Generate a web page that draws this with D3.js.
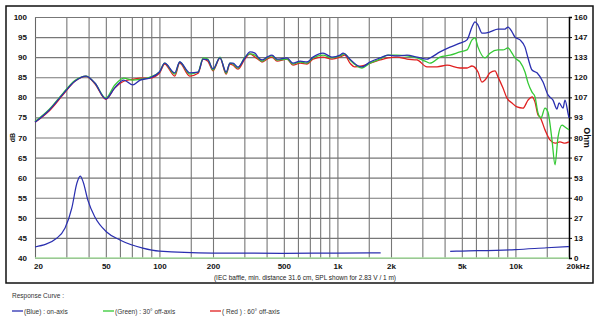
<!DOCTYPE html>
<html>
<head>
<meta charset="utf-8">
<script src="https://cdn.jsdelivr.net/npm/d3@7"></script>
<style>
  body { margin: 0; background: #fff; }
  svg { display: block; font-family: "Liberation Sans", Arial, sans-serif; }
</style>
</head>
<body>
<div id="chart"></div>
<script>
// ---- data ----
// frequency response, [Hz, dB]
const onAxis = [
  [20,73.8],[24,76.8],[28.7,80.8],[33.5,84],[38.7,85.3],[43.5,83.5],[50,79.6],[56,82.3],[63,84.3],[71,83.1],
  [78,84.3],[88,84.8],[100,86.3],[107,88.5],[122,86.1],[130,88.8],[148,86.1],[165,86.3],[176,89.5],[187,89.3],
  [200,87.1],[219,89.8],[237,86.3],[249,88.5],[259,88.5],[276,87.5],[302,89.8],[323,91.3],[344,91],[358,90],
  [377,89.3],[402,90],[429,90.5],[458,89.5],[521,89.8],[563,88.5],[617,89],[675,88.8],[729,90],[830,91],
  [932,90],[1034,90.5],[1075,91],[1177,89.5],[1288,88],[1374,87.6],[1524,88.8],[1734,89.8],[1924,90.5],[2161,90.3],
  [2460,90.5],[2800,90],[3186,89.5],[3312,89.8],[3770,91.3],[4292,92.5],[4884,93.5],[5346,94.3],[5702,97.5],[5927,98.8],
  [6163,98],[6490,96],[6746,96],[7198,96.3],[7980,97],[8738,97],[9084,97.5],[9566,96.3],[9944,95],[10608,94.3],
  [11320,92.5],[11770,89.8],[12394,86.8],[13220,86.1],[14290,83.8],[15240,80.6],[16260,79.3],[17130,77.1],[17580,78.6],
  [18510,77.3],[18990,79.3],[19740,76.1],[20000,74.9]
];
const offAxis30 = [
  [20,74],[24,77],[28.7,81],[33.5,84.2],[38.7,85.3],[43.5,83.5],[50,79.8],[56,83],[63,84.8],[71,84.3],
  [78,84.5],[88,85],[100,86.3],[107,88.5],[122,85.8],[130,88.8],[148,85.8],[165,86.3],[176,89.8],[187,89.5],
  [200,86.8],[219,90],[237,86],[249,88.5],[259,88.3],[276,87.3],[302,90],[323,90.8],[344,90.5],[358,89.8],
  [377,89],[402,89.8],[429,90.3],[458,89.3],[521,89.5],[563,88.3],[617,88.8],[675,88.5],[729,89.8],[830,90.5],
  [932,89.8],[1034,90.3],[1100,90.8],[1177,89.3],[1288,87.8],[1374,87.3],[1524,88.5],[1734,89.5],[1924,90.5],[2161,90.5],
  [2460,90.3],[2800,89.8],[3186,88.8],[3312,88.5],[3770,90],[4292,90.5],[4884,91.3],[5346,91.8],[5702,94.3],[5927,94.8],
  [6163,92.5],[6746,89.8],[7198,91],[7980,91.8],[8516,91.8],[9084,92.3],[9566,91],[9944,89.8],[10608,88.8],[11320,86.3],
  [11770,83.6],[12394,81.3],[12884,80.1],[13390,76.1],[13920,74.9],[14664,77.3],[15240,76.3],[16050,69.4],[16690,63.2],
  [17350,70.1],[18270,73.1],[18990,72.6],[20000,71.9]
];
const offAxis60 = [
  [20,73.8],[24,76.6],[28.7,80.6],[33.5,84],[38.7,85.2],[43.5,83.3],[50,79.5],[56,82.3],[63,84],[71,84.5],
  [78,84.8],[88,84.8],[100,86],[107,88.3],[122,85.3],[130,88.5],[148,85.3],[165,86],[176,89.5],[187,89],
  [200,86.6],[219,89.8],[237,85.8],[249,88.3],[259,88],[276,87],[302,89.5],[323,90.8],[344,90],[358,89.5],
  [377,88.8],[402,89.5],[429,90],[458,89],[521,89.5],[563,88],[617,88.5],[675,88.3],[729,89.5],[830,90],
  [932,89.5],[1034,90],[1100,90.5],[1177,88.5],[1250,87.6],[1374,87.8],[1524,88.5],[1734,89.3],[1924,89.8],[2161,90],
  [2460,89.5],[2800,89.3],[3186,87.6],[3627,87.6],[4128,88],[4884,87.3],[5346,87.3],[5702,87.8],[6163,86.3],[6490,83.8],
  [6746,84.3],[7198,86.1],[7680,86.6],[7980,85.1],[8516,82.3],[8968,79.8],[9566,78.6],[10206,77.6],[11028,77.3],[11770,79.3],
  [12394,80.1],[12884,78.8],[13390,75.6],[13744,75.1],[14664,71.9],[15640,69.4],[16690,68.6],[17800,68.9],[18990,68.6],[20000,68.9]
];
// impedance, [Hz, Ohm]; null marks the gap in the trace
const impedance = [
  [20,7.3],[26.6,13.3],[29.5,19.9],[32.2,33.2],[34.4,49.8],[35.9,54.4],[37.3,50.5],[39.6,38.5],[43.4,27.2],[50.5,17.3],
  [60,12],[80.6,6.6],[100,4.6],[200,3.3],[500,3.1],[1000,3.3],[1750,3.4],[2500,null],[4300,4.4],[5000,4.6],
  [10000,5.6],[15000,6.8],[20000,7.6]
];

const gridFreqs = [20,30,40,50,60,70,80,90,100,150,200,300,400,500,600,700,800,900,1000,1500,2000,3000,4000,5000,6000,7000,8000,9000,10000,15000,20000];
const freqLabels = {20:"20",50:"50",100:"100",200:"200",500:"500",1000:"1k",2000:"2k",5000:"5k",10000:"10k",20000:"20kHz"};
const dbTicks = [40,45,50,55,60,65,70,75,80,85,90,95,100];
const ohmTicks = [0,13.33,26.67,40,53.33,66.67,80,93.33,106.67,120,133.33,146.67,160];

const series = [
  {name: "( Red ) : 60° off-axis", color: "#e02020", values: offAxis60, legendX: 210},
  {name: "(Green) : 30° off-axis", color: "#35c935", values: offAxis30, legendX: 103},
  {name: "(Blue) : on-axis", color: "#2a2fb0", values: onAxis, legendX: 12}
];

// ---- layout ----
const W = 600, H = 318;
const plot = {left: 35, right: 569, top: 17, bottom: 258};

const svg = d3.select("#chart").append("svg")
  .attr("width", W).attr("height", H);

svg.append("rect").attr("width", W).attr("height", H).attr("fill", "#fff");

// frame round the chart
svg.append("rect")
  .attr("x", 6).attr("y", 6).attr("width", 587).attr("height", 277)
  .attr("fill", "none").attr("stroke", "#111").attr("stroke-width", 1.5);

const x = d3.scaleLog().domain([20, 20000]).range([plot.left, plot.right]);
const y = d3.scaleLinear().domain([40, 100]).range([plot.bottom, plot.top]);
const yOhm = d3.scaleLinear().domain([0, 160]).range([plot.bottom, plot.top]);

// vertical grid + frequency labels
const xAxis = svg.append("g")
  .attr("transform", `translate(0,${plot.bottom})`)
  .call(d3.axisBottom(x)
    .tickValues(gridFreqs)
    .tickSize(-(plot.bottom - plot.top))
    .tickPadding(5)
    .tickFormat(d => freqLabels[d] || ""));
xAxis.select(".domain").remove();
xAxis.selectAll(".tick line").attr("stroke", "#777").attr("stroke-width", 1.1);
xAxis.selectAll(".tick text")
  .attr("fill", "#111").style("font-size", "8px").style("font-weight", "bold");
xAxis.selectAll(".tick text").filter(d => d === 20).attr("dx", 3);
xAxis.selectAll(".tick text").filter(d => d === 20000).attr("text-anchor", "start").attr("dx", -3);

// horizontal grid + dB labels
const yAxis = svg.append("g")
  .attr("transform", `translate(${plot.left},0)`)
  .call(d3.axisLeft(y)
    .tickValues(dbTicks)
    .tickSize(-(plot.right - plot.left))
    .tickPadding(8));
yAxis.select(".domain").attr("stroke", "#666");
yAxis.selectAll(".tick line").attr("stroke", "#777").attr("stroke-width", 1.1);
yAxis.selectAll(".tick text")
  .attr("fill", "#111").style("font-size", "8px").style("font-weight", "bold");

// right axis in Ohm
const yAxisR = svg.append("g")
  .attr("transform", `translate(${plot.right},0)`)
  .call(d3.axisRight(yOhm)
    .tickValues(ohmTicks)
    .tickSize(3)
    .tickPadding(2)
    .tickFormat(d => Math.round(d)));
yAxisR.select(".domain").attr("stroke", "#000").attr("stroke-width", 1.5);
yAxisR.selectAll(".tick line").attr("stroke", "#000");
yAxisR.selectAll(".tick text")
  .attr("fill", "#111").style("font-size", "8px").style("font-weight", "bold");

// bottom line drawn light green as in the original
svg.append("line")
  .attr("x1", plot.left).attr("x2", plot.right)
  .attr("y1", plot.bottom).attr("y2", plot.bottom)
  .attr("stroke", "#a9dfa0").attr("stroke-width", 1.5);

// axis titles
svg.append("text")
  .attr("transform", `translate(15,${y(70)}) rotate(-90)`)
  .attr("text-anchor", "middle")
  .style("font-size", "7px").style("font-weight", "bold").attr("fill", "#111")
  .text("dB");

svg.append("text")
  .attr("transform", `translate(584,${yOhm(80)}) rotate(90)`)
  .attr("text-anchor", "middle")
  .style("font-size", "9px").style("font-weight", "bold").attr("fill", "#111")
  .text("Ohm");

svg.append("text")
  .attr("x", 305).attr("y", 280)
  .attr("text-anchor", "middle")
  .style("font-size", "6.5px").attr("fill", "#222")
  .text("(IEC baffle, min. distance 31.6 cm, SPL shown for 2.83 V / 1 m)");

// curves
const line = d3.line()
  .x(d => x(d[0]))
  .y(d => y(d[1]))
  .curve(d3.curveMonotoneX);

const ohmLine = d3.line()
  .defined(d => d[1] !== null)
  .x(d => x(d[0]))
  .y(d => yOhm(d[1]))
  .curve(d3.curveMonotoneX);

svg.append("path")
  .datum(impedance)
  .attr("fill", "none")
  .attr("stroke", "#2a2fb0")
  .attr("stroke-width", 1.2)
  .attr("d", ohmLine);

series.forEach(s => {
  svg.append("path")
    .datum(s.values)
    .attr("fill", "none")
    .attr("stroke", s.color)
    .attr("stroke-width", 1.3)
    .attr("stroke-linejoin", "round")
    .attr("d", line);
});

// legend
svg.append("text")
  .attr("x", 12).attr("y", 298)
  .style("font-size", "6.5px").attr("fill", "#333")
  .text("Response Curve :");

const legend = svg.selectAll(".legend")
  .data(series.slice().reverse())
  .enter().append("g")
  .attr("class", "legend")
  .attr("transform", d => `translate(${d.legendX},311)`);
legend.append("line")
  .attr("x1", 0).attr("x2", 11)
  .attr("stroke", d => d.color).attr("stroke-width", 1.3);
legend.append("text")
  .attr("x", 12).attr("y", 2.5)
  .style("font-size", "6.5px").attr("fill", "#333")
  .text(d => d.name);
</script>
</body>
</html>
